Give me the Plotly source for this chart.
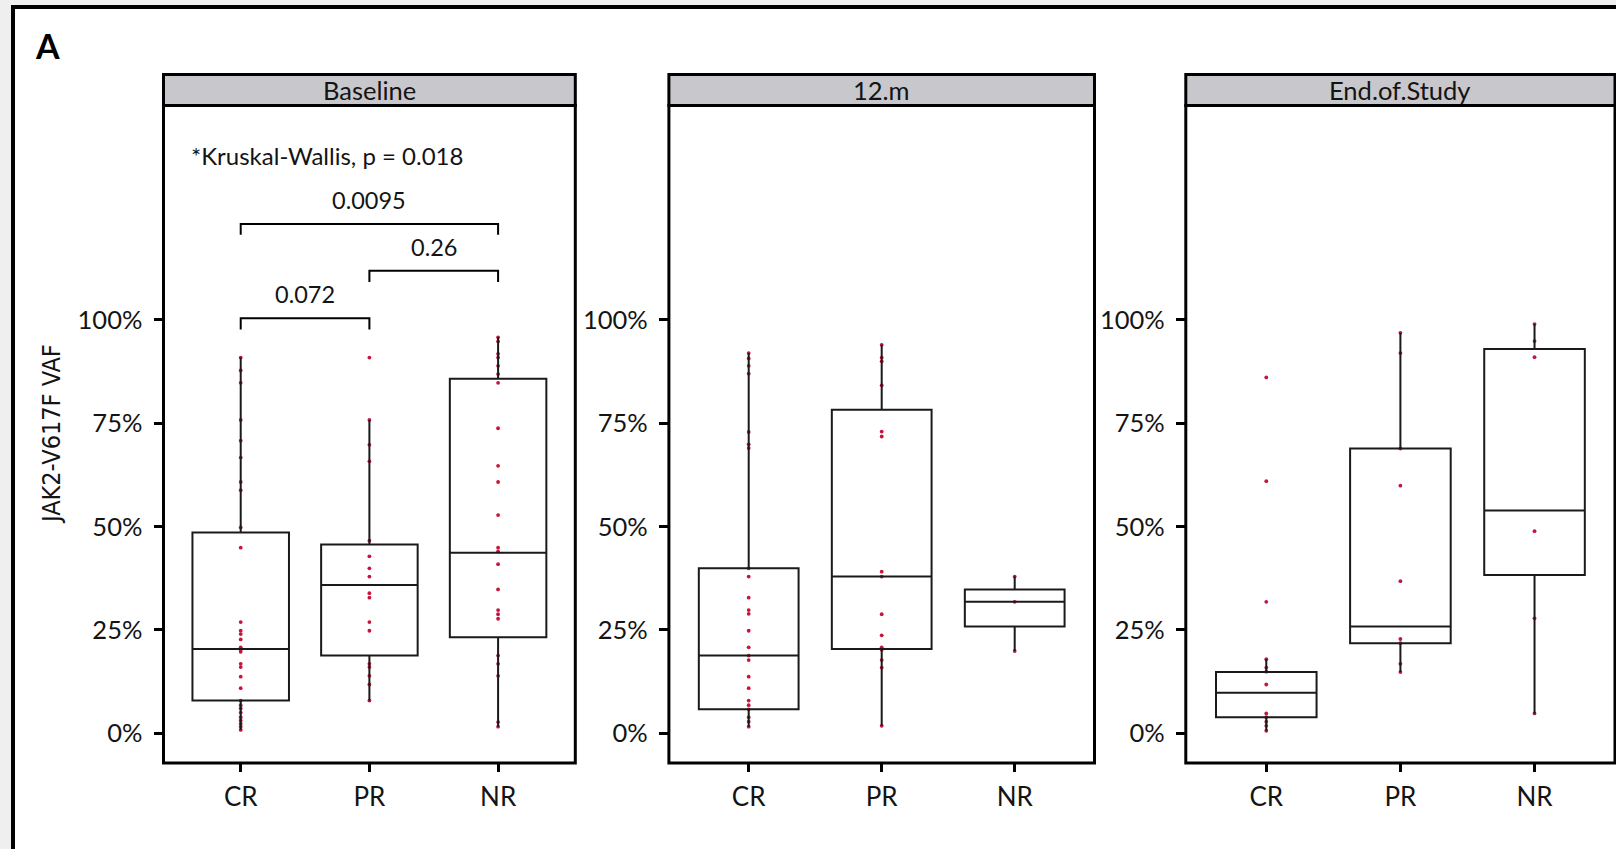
import plotly.graph_objects as go

W, H = 1616, 849

categories = ["CR", "PR", "NR"]
panel_names = ["Baseline", "12.m", "End.of.Study"]

# ---- individual points (VAF %) ----
baseline_CR = [90.9, 87.8, 84.8, 75.8, 70.8, 66.7, 60.8, 58.8, 49.8, 44.9, 26.9, 24.8, 24.0, 22.7, 20.8,
               20.2, 19.7, 16.8, 16.0, 13.7, 10.9, 7.9, 6.8, 6.0, 5.0, 3.9, 3.1, 2.3, 1.6, 0.8]
baseline_PR = [90.9, 75.8, 69.8, 65.8, 46.6, 42.8, 39.9, 37.9, 33.9, 32.8, 26.9, 24.8, 16.8, 16.0, 13.9,
               11.8, 7.9]
baseline_NR = [95.8, 94.8, 91.8, 90.9, 88.9, 86.9, 84.8, 73.8, 64.7, 60.8, 52.8, 44.9, 44.0, 40.9, 34.8,
               29.8, 28.8, 27.7, 18.8, 16.8, 13.9, 2.7, 1.6]
m12_CR = [92.0, 90.7, 88.9, 87.0, 72.9, 69.9, 69.0, 39.9, 37.9, 32.8, 29.8, 28.9, 24.8, 20.8, 18.8, 17.7,
          13.7, 10.9, 7.9, 6.8, 5.8, 3.9, 2.8, 1.6]
m12_PR = [94.0, 90.9, 90.0, 84.2, 73.0, 71.8, 39.1, 37.9, 28.8, 23.7, 20.8, 20.2, 17.7, 15.9, 1.8]
m12_NR = [37.9, 31.8, 19.9]
eos_CR = [86.1, 61.0, 31.8, 17.9, 15.9, 14.9, 11.8, 4.8, 3.9, 2.8, 1.8, 0.6]
eos_PR = [96.9, 92.0, 68.9, 59.9, 36.8, 22.8, 21.8, 16.8, 14.8]
eos_NR = [99.0, 94.9, 91.0, 48.9, 27.8, 4.8]

# ---- box statistics (CR, PR, NR) ----
baseline_q1 = [7.9, 18.8, 23.2]
baseline_med = [20.4, 35.9, 43.7]
baseline_q3 = [48.6, 45.7, 85.8]
baseline_lo = [0.8, 7.9, 1.6]
baseline_hi = [90.9, 75.8, 95.8]

m12_q1 = [5.8, 20.4, 25.8]
m12_med = [18.8, 37.9, 31.8]
m12_q3 = [39.9, 78.3, 34.8]
m12_lo = [1.6, 1.8, 19.9]
m12_hi = [92.0, 94.0, 37.9]

eos_q1 = [3.9, 21.8, 38.3]
eos_med = [9.8, 25.8, 53.9]
eos_q3 = [14.8, 68.9, 93.0]
eos_lo = [0.6, 14.8, 4.8]
eos_hi = [17.9, 96.9, 99.0]

# ---- pairwise comparisons (Baseline panel) ----
cmp_from = ["CR", "PR", "CR"]
cmp_to = ["NR", "NR", "PR"]
cmp_label = ["0.0095", "0.26", "0.072"]
cmp_bar = [123.2, 111.9, 100.4]
cmp_tip = [120.6, 109.2, 97.7]
cmp_text_y = [129.0, 117.7, 106.3]
kw_text = "*Kruskal-Wallis, p = 0.018"
kw_y = 139.9

y_ticks = [0, 25, 50, 75, 100]
y_ticktext = ["0%", "25%", "50%", "75%", "100%"]
y_title = "JAK2-V617F VAF"

points = [[baseline_CR, baseline_PR, baseline_NR],
          [m12_CR, m12_PR, m12_NR],
          [eos_CR, eos_PR, eos_NR]]
stats = [(baseline_q1, baseline_med, baseline_q3, baseline_lo, baseline_hi),
         (m12_q1, m12_med, m12_q3, m12_lo, m12_hi),
         (eos_q1, eos_med, eos_q3, eos_lo, eos_hi)]

# ---- layout geometry (pixels) ----
panel_x = [(163.5, 575.3), (668.9, 1094.5), (1185.8, 1615.0)]
strip_top, plot_top, plot_bottom = 74.5, 105.5, 763.0
y_range = [-7.2, 151.9]
x_range = [-0.6, 2.6]
box_width = 0.75

FONT = "Lato, 'Open Sans', sans-serif"
TXT = "#141414"
DOT = "#c8143c"

def fx(px):
    return px / W

def fy(py):
    return 1 - py / H

fig = go.Figure()

# points (drawn under box lines)
for i in range(3):
    ax = "" if i == 0 else str(i + 1)
    for j, cat in enumerate(categories):
        vals = points[i][j]
        fig.add_trace(go.Scatter(
            x=[cat] * len(vals), y=vals, mode="markers",
            marker=dict(size=3.8, color=DOT, line=dict(width=0)),
            xaxis="x" + ax, yaxis="y" + ax, showlegend=False, hoverinfo="y"))

# brackets on Baseline panel
for k in range(len(cmp_label)):
    fig.add_trace(go.Scatter(
        x=[cmp_from[k], cmp_from[k], cmp_to[k], cmp_to[k]],
        y=[cmp_tip[k], cmp_bar[k], cmp_bar[k], cmp_tip[k]],
        mode="lines", line=dict(color="black", width=2),
        xaxis="x", yaxis="y", showlegend=False, hoverinfo="skip"))

# boxes on overlaid axes so their lines sit above the dots
for i in range(3):
    q1, med, q3, lo, hi = stats[i]
    ax = str(i + 4)
    fig.add_trace(go.Box(
        x=categories, q1=q1, median=med, q3=q3, lowerfence=lo, upperfence=hi,
        boxpoints=False, fillcolor="rgba(0,0,0,0)", width=box_width,
        line=dict(color="#1a1a1a", width=2), whiskerwidth=0,
        xaxis="x" + ax, yaxis="y" + ax, showlegend=False))

layout = dict(
    width=W, height=H,
    margin=dict(l=0, r=0, t=0, b=0),
    paper_bgcolor="#efefef", plot_bgcolor="rgba(0,0,0,0)",
    boxgap=0.25, boxgroupgap=0, showlegend=False,
    font=dict(family=FONT, color=TXT),
)

ydom = [fy(plot_bottom), fy(plot_top)]
for i in range(3):
    dom = [fx(panel_x[i][0]), fx(panel_x[i][1])]
    sfx = "" if i == 0 else str(i + 1)
    layout["xaxis" + sfx] = dict(
        domain=dom, anchor="y" + sfx, type="category",
        categoryorder="array", categoryarray=categories, range=x_range,
        showgrid=False, zeroline=False, showline=False,
        ticks="outside", ticklen=8, tickwidth=2.5, tickcolor="black",
        tickfont=dict(family=FONT, size=26, color=TXT), ticklabelstandoff=3,
        fixedrange=True)
    layout["yaxis" + sfx] = dict(
        domain=ydom, anchor="x" + sfx, range=y_range,
        tickvals=y_ticks, ticktext=y_ticktext,
        showgrid=False, zeroline=False, showline=False,
        ticks="outside", ticklen=9, tickwidth=2.5, tickcolor="black",
        tickfont=dict(family=FONT, size=25.5, color=TXT), ticklabelstandoff=6,
        fixedrange=True)
    o = str(i + 4)
    layout["xaxis" + o] = dict(
        domain=dom, anchor="y" + o, overlaying="x" + sfx, type="category",
        categoryorder="array", categoryarray=categories, range=x_range,
        visible=False, fixedrange=True)
    layout["yaxis" + o] = dict(
        domain=ydom, anchor="x" + o, overlaying="y" + sfx, range=y_range,
        visible=False, fixedrange=True)

shapes = [
    # outer figure frame (white card with black border)
    dict(type="rect", xref="paper", yref="paper", layer="below",
         x0=fx(13), x1=1.05, y0=fy(7), y1=-0.05,
         fillcolor="white", line=dict(color="black", width=4)),
]
annotations = [
    dict(text="<b>A</b>", xref="paper", yref="paper", x=fx(33), y=fy(45),
         xanchor="left", yanchor="middle", showarrow=False,
         font=dict(family=FONT, size=34, color="black")),
    dict(text=y_title, xref="paper", yref="paper", x=fx(51), y=fy(434),
         xanchor="center", yanchor="middle", textangle=-90, showarrow=False,
         font=dict(family="'Liberation Sans Narrow', 'DejaVu Sans Condensed', Lato, sans-serif",
                   size=25, color=TXT)),
]
for i in range(3):
    x0, x1 = fx(panel_x[i][0]), fx(panel_x[i][1])
    shapes.append(dict(type="rect", xref="paper", yref="paper", layer="above",
                       x0=x0, x1=x1, y0=fy(plot_top), y1=fy(strip_top),
                       fillcolor="#c8c7cc", line=dict(color="black", width=3)))
    shapes.append(dict(type="rect", xref="paper", yref="paper", layer="above",
                       x0=x0, x1=x1, y0=fy(plot_bottom), y1=fy(plot_top),
                       fillcolor="rgba(0,0,0,0)", line=dict(color="black", width=3)))
    annotations.append(dict(text=panel_names[i], xref="paper", yref="paper",
                            x=(x0 + x1) / 2, y=fy((strip_top + plot_top) / 2),
                            xanchor="center", yanchor="middle", showarrow=False,
                            font=dict(family=FONT, size=25.5, color=TXT)))

annotations.append(dict(text=kw_text, xref="x", yref="y", x=-0.40, y=kw_y,
                        xanchor="left", yanchor="middle", showarrow=False,
                        font=dict(family=FONT, size=24, color=TXT)))
for k in range(len(cmp_label)):
    xa = categories.index(cmp_from[k])
    xb = categories.index(cmp_to[k])
    annotations.append(dict(text=cmp_label[k], xref="x", yref="y",
                            x=(xa + xb) / 2, y=cmp_text_y[k],
                            xanchor="center", yanchor="middle", showarrow=False,
                            font=dict(family=FONT, size=23.5, color=TXT)))

layout["shapes"] = shapes
layout["annotations"] = annotations
fig.update_layout(**layout)

fig.write_html(
    "out.html",
    config={"displayModeBar": False},
    post_script="document.body.style.margin='0px';document.body.style.backgroundColor='#efefef';",
)
